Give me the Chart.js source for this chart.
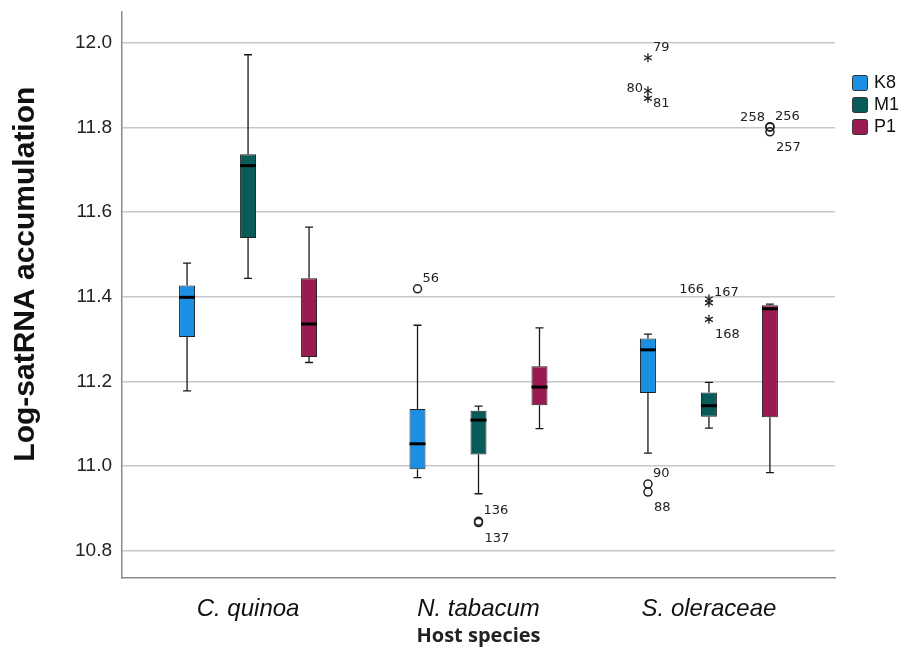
<!DOCTYPE html>
<html>
<head>
<meta charset="utf-8">
<script src="https://cdn.jsdelivr.net/npm/chart.js@4.4.0/dist/chart.umd.min.js"></script>
<style>
  html, body { margin: 0; padding: 0; background: #fff; }
  #wrap { width: 905px; height: 649px; position: relative; }
</style>
</head>
<body>
<div id="wrap"><canvas id="boxChart"></canvas></div>
<script>
/* ── Data ────────────────────────────────────────────────────── */
const hosts  = ['C. quinoa', 'N. tabacum', 'S. oleraceae'];
const yTicks = [10.8, 11.0, 11.2, 11.4, 11.6, 11.8, 12.0];

// one row per host: [whisker low, Q1, median, Q3, whisker high]
const k8Stats = [
  [11.178, 11.305, 11.399, 11.427, 11.480],
  [10.973, 10.993, 11.053, 11.135, 11.333],
  [11.031, 11.173, 11.275, 11.302, 11.312],
];
const m1Stats = [
  [11.444, 11.539, 11.710, 11.737, 11.972],
  [10.935, 11.028, 11.109, 11.131, 11.142],
  [11.090, 11.117, 11.143, 11.174, 11.198],
];
const p1Stats = [
  [11.245, 11.258, 11.336, 11.444, 11.565],
  [11.089, 11.144, 11.187, 11.236, 11.327],
  [10.985, 11.116, 11.372, 11.380, 11.383],
];

// outliers: [host index, value, case id, kind]  (o = outlier, * = extreme)
const k8Outliers = [
  [1, 11.419, '56', 'o'],
  [2, 11.965, '79', '*'],
  [2, 11.887, '80', '*'],
  [2, 11.869, '81', '*'],
  [2, 10.958, '90', 'o'],
  [2, 10.939, '88', 'o'],
];
const m1Outliers = [
  [1, 10.870, '136', 'o'],
  [1, 10.867, '137', 'o'],
  [2, 11.395, '166', '*'],
  [2, 11.386, '167', '*'],
  [2, 11.347, '168', '*'],
];
const p1Outliers = [
  [2, 11.802, '256', 'o'],
  [2, 11.801, '258', 'o'],
  [2, 11.790, '257', 'o'],
];

const seriesNames  = ['K8', 'M1', 'P1'];
const seriesColors = ['#1b8fe4', '#075b58', '#9c1a52'];

/* ── Where each case label sits next to its marker ───────────── */
const labelPlacement = {
  '56': 'ra', '136': 'ra', '137': 'rb',
  '79': 'ra', '80': 'l', '81': 'r', '90': 'ra', '88': 'rb',
  '166': 'la', '167': 'ra', '168': 'rb',
  '258': 'la', '256': 'ra', '257': 'rb',
};

/* ── Box-and-whisker drawing on top of the floating bars ─────── */
const boxWhiskerPlugin = {
  id: 'boxWhisker',
  afterDatasetsDraw(chart) {
    const { ctx, scales: { y } } = chart;
    chart.data.datasets.forEach((ds, di) => {
      const meta = chart.getDatasetMeta(di);
      meta.data.forEach((bar, i) => {
        const [lo, q1, med, q3, hi] = ds.stats[i];
        const cx = bar.x, half = bar.width / 2, cap = 4;
        const pLo = y.getPixelForValue(lo), pQ1 = y.getPixelForValue(q1);
        const pQ3 = y.getPixelForValue(q3), pHi = y.getPixelForValue(hi);
        const pMed = y.getPixelForValue(med);
        ctx.save();
        ctx.strokeStyle = '#1a1a1a';
        ctx.lineWidth = 1.3;
        ctx.beginPath();
        ctx.moveTo(cx, pQ3); ctx.lineTo(cx, pHi);
        ctx.moveTo(cx - cap, pHi); ctx.lineTo(cx + cap, pHi);
        ctx.moveTo(cx, pQ1); ctx.lineTo(cx, pLo);
        ctx.moveTo(cx - cap, pLo); ctx.lineTo(cx + cap, pLo);
        ctx.stroke();
        ctx.lineWidth = 3;
        ctx.strokeStyle = '#000';
        ctx.beginPath();
        ctx.moveTo(cx - half, pMed); ctx.lineTo(cx + half, pMed);
        ctx.stroke();
        ctx.restore();
      });

      // outliers and their case numbers
      ds.outliers.forEach(([hostIdx, val, id, kind]) => {
        const bar = meta.data[hostIdx];
        const cx = bar.x, cy = y.getPixelForValue(val);
        ctx.save();
        ctx.strokeStyle = '#222';
        if (kind === 'o') {
          ctx.lineWidth = 1.5;
          ctx.beginPath();
          ctx.arc(cx, cy, 4, 0, Math.PI * 2);
          ctx.stroke();
        } else {
          ctx.lineWidth = 1.3;
          ctx.beginPath();
          for (let k = 0; k < 3; k++) {
            const a = Math.PI / 2 + k * Math.PI / 3;
            ctx.moveTo(cx - 4.5 * Math.cos(a), cy - 4.5 * Math.sin(a));
            ctx.lineTo(cx + 4.5 * Math.cos(a), cy + 4.5 * Math.sin(a));
          }
          ctx.stroke();
        }
        ctx.fillStyle = '#222';
        ctx.font = '13px "DejaVu Sans"';
        ctx.textBaseline = 'alphabetic';
        const place = labelPlacement[id] || 'ra';
        if (place === 'ra')      { ctx.textAlign = 'left';  ctx.fillText(id, cx + 5, cy - 7); }
        else if (place === 'rb') { ctx.textAlign = 'left';  ctx.fillText(id, cx + 6, cy + 19); }
        else if (place === 'la') { ctx.textAlign = 'right'; ctx.fillText(id, cx - 5, cy - 6); }
        else if (place === 'l')  { ctx.textAlign = 'right'; ctx.fillText(id, cx - 5, cy + 1); }
        else if (place === 'r')  { ctx.textAlign = 'left';  ctx.fillText(id, cx + 5, cy + 9); }
        ctx.restore();
      });
    });
  },
};

/* ── Legend at the right, SPSS style ─────────────────────────── */
const sideLegendPlugin = {
  id: 'sideLegend',
  afterDraw(chart) {
    const { ctx, chartArea } = chart;
    const x = chartArea.right + 17;
    ctx.save();
    chart.data.datasets.forEach((ds, i) => {
      const top = chartArea.top + 63 + i * 22;
      ctx.fillStyle = ds.backgroundColor;
      ctx.strokeStyle = '#333';
      ctx.lineWidth = 1;
      ctx.beginPath();
      ctx.roundRect(x + 0.5, top + 0.5, 15, 15, 2);
      ctx.fill();
      ctx.stroke();
      ctx.fillStyle = '#111';
      ctx.font = '18px "Liberation Sans", Arial, sans-serif';
      ctx.textAlign = 'left';
      ctx.textBaseline = 'middle';
      ctx.fillText(ds.label, x + 22, top + 8.5);
    });
    ctx.restore();
  },
};

/* ── Chart ───────────────────────────────────────────────────── */
const allStats    = [k8Stats, m1Stats, p1Stats];
const allOutliers = [k8Outliers, m1Outliers, p1Outliers];

const ctx = document.getElementById('boxChart').getContext('2d');
new Chart(ctx, {
  type: 'bar',
  data: {
    datasets: seriesNames.map((name, s) => ({
      label: name,
      data: allStats[s].map((st, i) => ({ x: i, y: [st[1], st[3]] })),
      stats: allStats[s],
      outliers: allOutliers[s],
      backgroundColor: seriesColors[s],
      borderColor: '#222',
      borderWidth: 1,
      borderSkipped: false,
      categoryPercentage: 0.794,
      barPercentage: 0.262,
    })),
  },
  options: {
    responsive: true,
    maintainAspectRatio: false,
    animation: false,
    layout: { padding: { top: 12, right: 70, bottom: 0, left: 0 } },
    plugins: {
      legend: { display: false },
      tooltip: { enabled: false },
    },
    scales: {
      x: {
        type: 'linear',
        offset: false,
        min: -0.547,
        max: 2.547,
        afterBuildTicks: scale => { scale.ticks = hosts.map((h, i) => ({ value: i })); },
        afterFit: scale => { scale.height = 71; scale.paddingLeft = 0; scale.paddingRight = 0; },
        grid: { display: false },
        border: { display: true, color: '#8a8a8a', width: 1.5 },
        ticks: {
          padding: 9,
          color: '#111',
          font: { family: '"Liberation Sans", Arial, sans-serif', size: 24, style: 'italic' },
          callback: v => hosts[Math.round(v)],
        },
        title: {
          display: true,
          text: 'Host species',
          color: '#222',
          font: { family: '"Open Sans", sans-serif', size: 20, weight: 'bold' },
          padding: { top: 0, bottom: 1 },
        },
      },
      y: {
        min: 10.736,
        max: 12.073,
        afterBuildTicks: scale => { scale.ticks = yTicks.map(v => ({ value: v })); },
        afterFit: scale => { scale.width = 122; scale.paddingTop = 0; scale.paddingBottom = 0; },
        grid: { color: '#c8c8c8', lineWidth: 1.5, drawTicks: false },
        border: { display: true, color: '#8a8a8a', width: 1.5 },
        ticks: {
          padding: 10,
          color: '#222',
          font: { family: '"Liberation Sans", Arial, sans-serif', size: 19 },
          callback: v => v.toFixed(1),
        },
        title: {
          display: true,
          // leading spaces nudge the rotated title upward like the original
          text: '     Log-satRNA accumulation',
          color: '#111',
          font: { family: '"Liberation Sans", Arial, sans-serif', size: 30, weight: 'bold' },
          padding: { top: 8, bottom: 0 },
        },
      },
    },
  },
  plugins: [boxWhiskerPlugin, sideLegendPlugin],
});
</script>
</body>
</html>
